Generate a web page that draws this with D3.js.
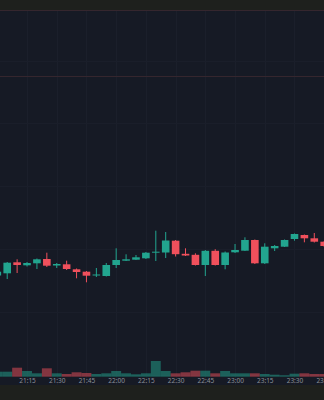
<!DOCTYPE html>
<html>
<head>
<meta charset="utf-8">
<script src="https://cdn.jsdelivr.net/npm/d3@7"></script>
<style>
  html, body { margin: 0; padding: 0; background: #1d1f1d; }
  svg { display: block; }
  .tick text { fill: #8b8f98; font-family: "Noto Sans", sans-serif; }
</style>
</head>
<body>
<div id="chart"></div>
<script>
let svgWidth = 324;
let svgHeight = 400;

// panel edges
let panel = { top: 10, bottom: 385 };

// 5 minute bars, starting 21:00
let times = ['21:00','21:05','21:10','21:15','21:20','21:25','21:30','21:35','21:40','21:45',
  '21:50','21:55','22:00','22:05','22:10','22:15','22:20','22:25','22:30','22:35',
  '22:40','22:45','22:50','22:55','23:00','23:05','23:10','23:15','23:20','23:25',
  '23:30','23:35','23:40','23:45'];
let opens  = [124.5,126.7,137.7,134.7,136.7,141.0,134.5,135.7,130.7,128.3,124.5,124.0,135.0,139.3,140.3,141.7,147.3,147.5,159.3,146.2,145.2,135.0,149.2,135.0,147.7,149.3,160.0,136.7,151.7,153.3,161.0,165.0,161.7,158.3];
let highs  = [130.0,138.0,140.7,138.0,141.5,147.3,137.0,139.3,131.5,129.0,132.0,137.0,151.7,145.7,145.0,148.0,169.3,168.0,160.0,151.7,146.7,150.0,150.8,148.5,156.0,162.7,160.5,156.7,155.0,160.5,166.5,165.5,167.0,159.0];
let lows   = [122.0,121.0,127.0,133.5,131.0,133.0,132.0,130.0,121.7,117.7,123.0,123.5,132.0,139.0,140.0,141.0,139.0,142.0,143.5,144.0,134.5,124.0,134.5,130.7,147.0,149.0,136.0,136.0,149.0,153.0,159.3,157.7,157.5,153.0];
let closes = [128.3,137.3,135.0,137.0,140.7,134.3,136.0,131.0,128.0,124.3,125.5,135.0,140.0,140.7,142.7,147.3,148.3,159.5,145.8,144.5,135.0,149.2,135.0,147.5,150.0,160.0,136.7,153.3,154.0,160.0,166.0,161.7,158.3,154.0];
let volumes = [500,500,900,570,340,840,340,270,440,370,270,340,570,340,240,340,1570,570,340,440,600,600,340,570,340,340,340,270,200,140,300,340,270,270];

// faint price grid and the two reddish price lines
let gridPrices = [339, 277, 214, 151, 88, 25];
let markPrices = [390, 324];

let parseTime = d3.timeParse('%H:%M');

let bars = times.map((t, i) => ({
  date: parseTime(t),
  open: opens[i],
  high: highs[i],
  low: lows[i],
  close: closes[i],
  volume: volumes[i],
}));

let svg = d3.select('#chart')
  .append('svg')
  .attr('width', svgWidth)
  .attr('height', svgHeight);

// background bands
svg.append('rect')
  .attr('x', 0).attr('y', 0)
  .attr('width', svgWidth).attr('height', svgHeight)
  .attr('fill', '#1e201d');

svg.append('rect')
  .attr('x', 0).attr('y', panel.top)
  .attr('width', svgWidth).attr('height', panel.bottom - panel.top)
  .attr('fill', '#161a25');

// scales
let xScale = d3.scaleTime()
  .domain([parseTime('21:00'), parseTime('23:45')])
  .range([-2.7, 324.2]);

let yScale = d3.scaleLinear()
  .domain([15, 390])
  .range([panel.bottom, panel.top]);

let volBase = 376.7;
let vScale = d3.scaleLinear()
  .domain([0, 1000])
  .range([volBase, volBase - 10]);

let step = xScale(parseTime('21:05')) - xScale(parseTime('21:00'));
let bodyW = 7.6;

let upColor = '#22a58f';
let downColor = '#f0505c';

// grid
let gridTimes = d3.timeMinute.every(15).range(parseTime('21:15'), parseTime('23:46'));

svg.append('g')
  .selectAll('line')
  .data(gridTimes)
  .enter()
  .append('line')
  .attr('x1', d => Math.round(xScale(d)) + 0.5)
  .attr('x2', d => Math.round(xScale(d)) + 0.5)
  .attr('y1', panel.top)
  .attr('y2', panel.bottom)
  .attr('stroke', '#1b1f2b')
  .attr('stroke-width', 1);

svg.append('g')
  .selectAll('line')
  .data(gridPrices)
  .enter()
  .append('line')
  .attr('x1', 0)
  .attr('x2', svgWidth)
  .attr('y1', d => Math.round(yScale(d)) + 0.5)
  .attr('y2', d => Math.round(yScale(d)) + 0.5)
  .attr('stroke', '#1a1e2a')
  .attr('stroke-width', 1);

svg.append('g')
  .selectAll('line')
  .data(markPrices)
  .enter()
  .append('line')
  .attr('x1', 0)
  .attr('x2', svgWidth)
  .attr('y1', d => Math.round(yScale(d)) + 0.5)
  .attr('y2', d => Math.round(yScale(d)) + 0.5)
  .attr('stroke', '#35262e')
  .attr('stroke-width', 1);

// volume
svg.append('g')
  .selectAll('rect')
  .data(bars)
  .enter()
  .append('rect')
  .attr('x', d => xScale(d.date) - step / 2)
  .attr('y', d => vScale(d.volume))
  .attr('width', step)
  .attr('height', d => volBase - vScale(d.volume))
  .attr('fill', d => d.close >= d.open ? upColor : downColor)
  .attr('opacity', 0.5);

// wicks
svg.append('g')
  .selectAll('line')
  .data(bars)
  .enter()
  .append('line')
  .attr('x1', d => xScale(d.date))
  .attr('x2', d => xScale(d.date))
  .attr('y1', d => yScale(d.high))
  .attr('y2', d => yScale(d.low))
  .attr('stroke', d => d.close >= d.open ? upColor : downColor)
  .attr('stroke-width', 1);

// bodies
svg.append('g')
  .selectAll('rect')
  .data(bars)
  .enter()
  .append('rect')
  .attr('x', d => xScale(d.date) - bodyW / 2)
  .attr('y', d => yScale(Math.max(d.open, d.close)))
  .attr('width', bodyW)
  .attr('height', d => Math.max(1, Math.abs(yScale(d.open) - yScale(d.close))))
  .attr('fill', d => d.close >= d.open ? upColor : downColor);

// time axis
let xAxis = d3.axisBottom(xScale)
  .tickValues(gridTimes)
  .tickFormat(d3.timeFormat('%H:%M'))
  .tickSize(0)
  .tickPadding(2);

svg.append('g')
  .attr('transform', `translate(0, ${volBase})`)
  .call(xAxis)
  .call(g => g.select('.domain').remove())
  .selectAll('text')
  .attr('font-size', '6.5px');
</script>
</body>
</html>
